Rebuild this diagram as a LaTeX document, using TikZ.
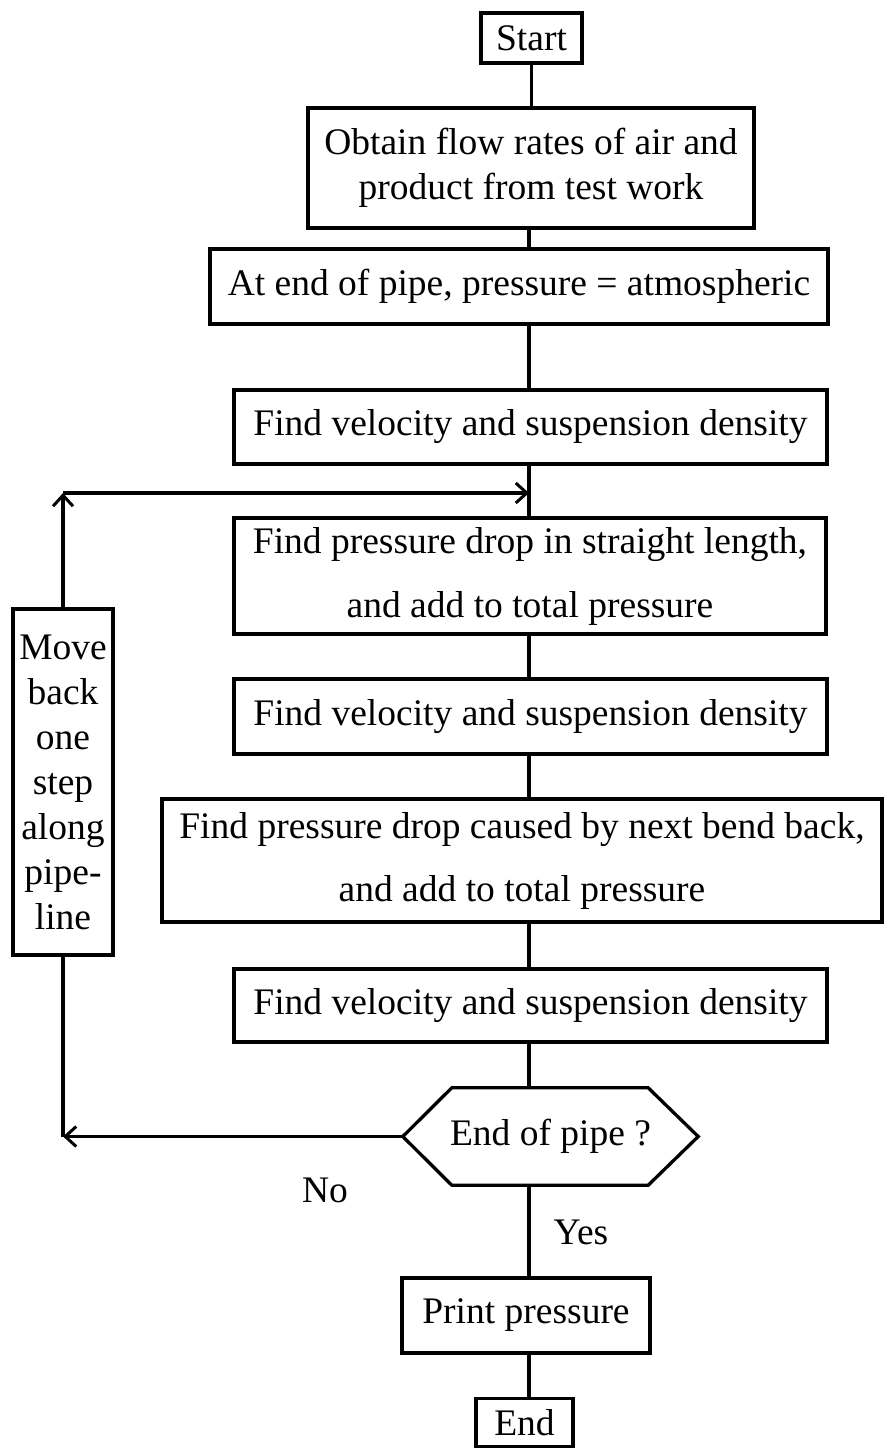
\documentclass[tikz,border=0pt]{standalone}
\usepackage{fontspec}
\setmainfont{Liberation Serif}
\usetikzlibrary{arrows.meta,calc}
\begin{document}
\begin{tikzpicture}[x=1pt,y=-1pt,
  every node/.style={font=\fontsize{37.5}{45}\selectfont},
  box/.style={draw, line width=3.3pt, inner sep=0pt, align=center},
  link/.style={line width=3.3pt},
  arr/.style={link, -{Straight Barb[length=11pt,width=20pt,line width=3pt]}}]
\useasboundingbox (0,0) rectangle (891,1448);

% main column of process boxes
\node[box, minimum width=101, minimum height=50] (start) at (531.5,38) {Start};
\node[box, minimum width=446, minimum height=120] (obtain) at (531,168)
  {Obtain flow rates of air and\\product from test work};
\node[box, minimum width=618, minimum height=75] (atend) at (519,286.5)
  {At end of pipe, pressure = atmospheric};
\node[box, minimum width=593, minimum height=74] (vel1) at (530.5,427)
  {Find velocity and suspension density};
\node[box, minimum width=592, minimum height=116] (straight) at (530,576)
  {Find pressure drop in straight length,\\[19pt]and add to total pressure};
\node[box, minimum width=593, minimum height=75] (vel2) at (530.5,716.5)
  {Find velocity and suspension density};
\node[box, minimum width=720, minimum height=123] (bend) at (522,860.5)
  {Find pressure drop caused by next bend back,\\[18pt]and add to total pressure};
\node[box, minimum width=593, minimum height=73] (vel3) at (530.5,1005.5)
  {Find velocity and suspension density};

% decision: hexagon with pointed ends
\node[inner sep=0pt, minimum width=295, minimum height=97] (dec) at (550.5,1136.5) {End of pipe ?};
\draw[link] (dec.west) -- ($(dec.north west)+(49,0)$) -- ($(dec.north east)+(-50,0)$)
  -- (dec.east) -- ($(dec.south east)+(-50,0)$) -- ($(dec.south west)+(49,0)$) -- cycle;

\node[box, minimum width=248, minimum height=75] (print) at (526,1315.5) {Print pressure};
\node[box, minimum width=97, minimum height=48] (end) at (524.5,1422.5) {End};

% side box of the loop
\node[box, minimum width=100, minimum height=346] (move) at (63,782)
  {Move\\back\\one\\step\\along\\pipe-\\line};

% labels of the decision
\node (no) at (325,1190) {No};
\node (yes) at (581,1232) {Yes};

% vertical spine
\coordinate (spine) at (529,0);
\draw[link] (start.south) -- (start.south |- obtain.north);
\draw[link] (obtain.south -| spine) -- (atend.north -| spine);
\draw[link] (atend.south -| spine) -- (vel1.north -| spine);
\draw[link] (vel1.south -| spine) -- (straight.north -| spine);
\draw[link] (straight.south -| spine) -- (vel2.north -| spine);
\draw[link] (vel2.south -| spine) -- (bend.north -| spine);
\draw[link] (bend.south -| spine) -- (vel3.north -| spine);
\draw[link] (vel3.south -| spine) -- (dec.north -| spine);
\draw[link] (dec.south -| spine) -- (print.north -| spine);
\draw[link] (print.south -| spine) -- (end.north -| spine);

% loop back through the side box
\coordinate (join) at (529,493);
\coordinate (turn) at (move.north |- join);
\coordinate (back) at (move.south |- dec.west);
\draw[arr] (dec.west) -- (back);
\draw[link] (back) -- (move.south);
\draw[arr] (move.north) -- (turn);
\draw[arr] (turn) -- (join);
\end{tikzpicture}
\end{document}
